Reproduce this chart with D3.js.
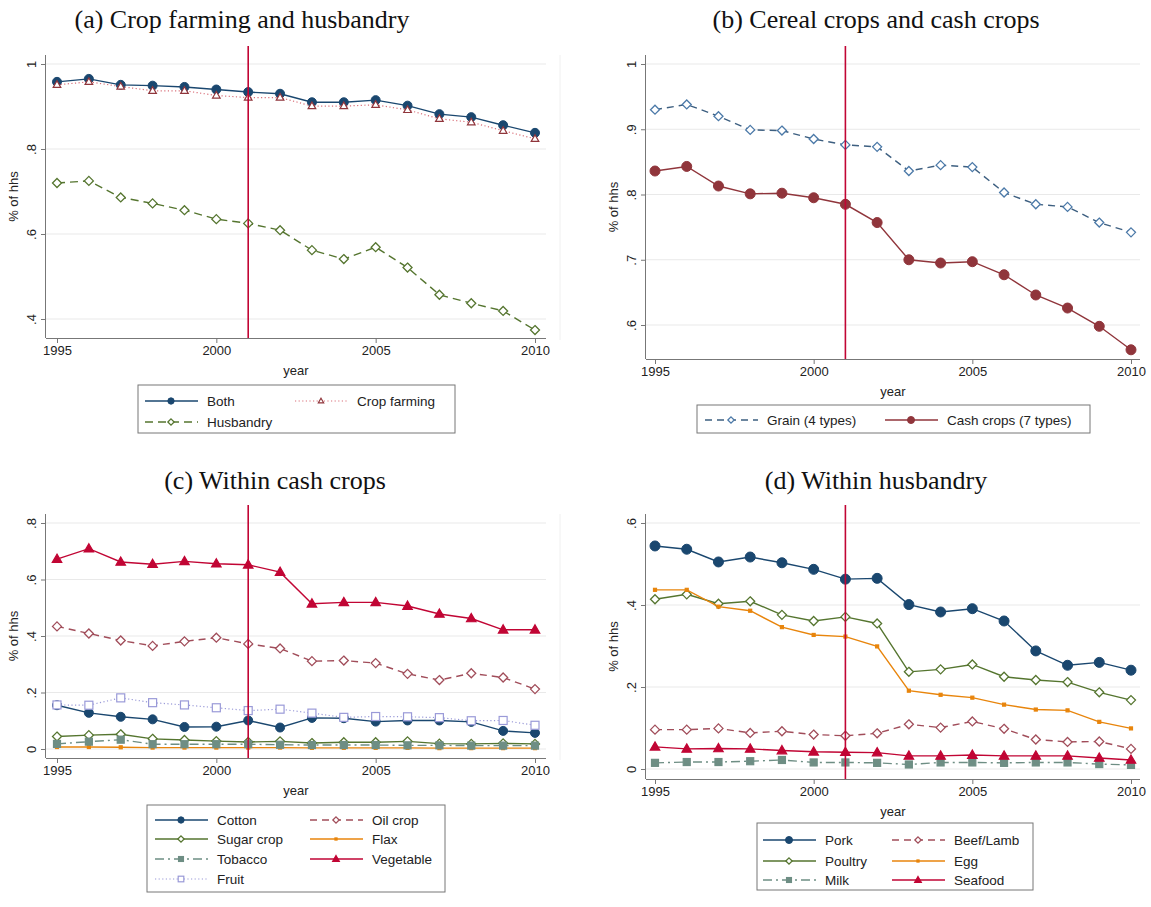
<!DOCTYPE html>
<html><head><meta charset="utf-8">
<script src="https://cdn.jsdelivr.net/npm/d3@7"></script>
<style>
body{margin:0;background:#fff;}
svg{display:block;}
</style></head>
<body>
<svg id="chart" width="1151" height="907"></svg>
<script>
// ---------- DATA ----------
const years = [1995,1996,1997,1998,1999,2000,2001,2002,2003,2004,2005,2006,2007,2008,2009,2010];
const xTicks = [1995,2000,2005,2010];
const policyYear = 2001;

// (a)
const both        = [0.958,0.965,0.951,0.949,0.946,0.940,0.934,0.930,0.910,0.910,0.915,0.902,0.882,0.875,0.856,0.838];
const cropFarming = [0.951,0.958,0.947,0.937,0.937,0.926,0.921,0.921,0.901,0.901,0.904,0.892,0.871,0.863,0.843,0.824];
const husbandry   = [0.720,0.725,0.686,0.672,0.656,0.635,0.625,0.609,0.562,0.541,0.569,0.521,0.457,0.437,0.419,0.374];
const ticksA = [0.4,0.6,0.8,1];

// (b)
const grain     = [0.930,0.938,0.920,0.899,0.898,0.885,0.876,0.873,0.836,0.845,0.842,0.803,0.785,0.781,0.757,0.742];
const cashCrops = [0.836,0.843,0.813,0.801,0.802,0.795,0.785,0.757,0.700,0.695,0.697,0.677,0.646,0.626,0.598,0.562];
const ticksB = [0.6,0.7,0.8,0.9,1];

// (c)
const cotton    = [0.155,0.128,0.114,0.105,0.078,0.079,0.101,0.076,0.110,0.109,0.097,0.101,0.101,0.096,0.064,0.057];
const oilCrop   = [0.434,0.409,0.384,0.365,0.381,0.394,0.372,0.356,0.311,0.313,0.304,0.266,0.244,0.268,0.253,0.212];
const sugarCrop = [0.044,0.049,0.052,0.036,0.032,0.028,0.025,0.027,0.021,0.024,0.024,0.027,0.019,0.018,0.020,0.018];
const flax      = [0.007,0.007,0.006,0.005,0.005,0.005,0.005,0.005,0.004,0.004,0.004,0.004,0.003,0.003,0.003,0.003];
const tobacco   = [0.018,0.026,0.033,0.017,0.017,0.017,0.017,0.015,0.014,0.014,0.014,0.013,0.013,0.012,0.012,0.012];
const vegetable = [0.672,0.709,0.662,0.654,0.664,0.656,0.652,0.626,0.514,0.519,0.519,0.506,0.478,0.462,0.422,0.422];
const fruit     = [0.156,0.155,0.181,0.164,0.156,0.146,0.136,0.141,0.127,0.112,0.115,0.114,0.111,0.100,0.101,0.084];
const ticksC = [0,0.2,0.4,0.6,0.8];

// (d)
const pork      = [0.544,0.536,0.505,0.517,0.503,0.487,0.463,0.465,0.401,0.383,0.391,0.361,0.288,0.253,0.260,0.241];
const beefLamb  = [0.096,0.096,0.099,0.088,0.092,0.084,0.081,0.087,0.109,0.101,0.116,0.098,0.072,0.066,0.067,0.049];
const poultry   = [0.414,0.426,0.403,0.409,0.376,0.361,0.371,0.355,0.237,0.243,0.255,0.225,0.217,0.212,0.187,0.168];
const egg       = [0.437,0.437,0.396,0.386,0.346,0.327,0.323,0.299,0.191,0.181,0.174,0.157,0.145,0.143,0.115,0.099];
const milk      = [0.015,0.017,0.017,0.019,0.022,0.016,0.016,0.015,0.011,0.016,0.016,0.015,0.016,0.016,0.012,0.010];
const seafood   = [0.054,0.049,0.050,0.049,0.045,0.042,0.041,0.040,0.032,0.032,0.034,0.032,0.032,0.032,0.027,0.022];
const ticksD = [0,0.2,0.4,0.6];

const titles = ["(a) Crop farming and husbandry","(b) Cereal crops and cash crops","(c) Within cash crops","(d) Within husbandry"];

// ---------- STYLE ----------
const C = {navy:"#1a476f", maroon:"#90353b", green:"#55752f", orange:"#e8850c", cran:"#c10534",
           teal:"#6e8e84", lav:"#9a9ad8", blue:"#4b79a8", grainLine:"#3d5f80", oil:"#a14d5a"};
const sans = "'Liberation Sans', Arial, sans-serif";
const serif = "'Liberation Serif', 'Times New Roman', serif";

const svg = d3.select("#chart");

function fmtTick(v){
  let s = d3.format(".1f")(v);
  if (s === "0.0") return "0";
  if (s === "1.0") return "1";
  return s.replace(/^0/,"");
}

function drawMarker(g, type, x, y, size, color, fill){
  const s = size;
  if (type === "circle"){
    g.append("circle").attr("cx",x).attr("cy",y).attr("r",s).attr("fill",fill||color).attr("stroke",color).attr("stroke-width",1);
  } else if (type === "diamond"){
    g.append("path").attr("d",`M${x},${y-s}L${x+s},${y}L${x},${y+s}L${x-s},${y}Z`)
      .attr("fill",fill||color).attr("stroke",color).attr("stroke-width",1.3);
  } else if (type === "triangle"){
    g.append("path").attr("d",`M${x},${y-s}L${x+s*0.95},${y+s*0.65}L${x-s*0.95},${y+s*0.65}Z`)
      .attr("fill",fill||color).attr("stroke",color).attr("stroke-width",1.2);
  } else if (type === "square"){
    g.append("rect").attr("x",x-s).attr("y",y-s).attr("width",2*s).attr("height",2*s)
      .attr("fill",fill||color).attr("stroke",color).attr("stroke-width",1.2);
  }
}

function panel(cfg){
  const g = svg.append("g");
  const x = d3.scaleLinear().domain([1995,2010]).range(cfg.xr);
  const y = d3.scaleLinear().domain(cfg.yd).range(cfg.yr);
  const left = cfg.axisX, right = cfg.rightX, bottom = cfg.axisY;

  // title
  g.append("text").attr("x",cfg.titleX).attr("y",cfg.titleY).attr("text-anchor","middle")
    .attr("font-family",serif).attr("font-size",26).attr("fill","#111").text(cfg.title);

  // faint frame right edge
  g.append("line").attr("x1",right+14).attr("x2",right+14).attr("y1",cfg.topY).attr("y2",bottom+2)
    .attr("stroke","#f0f0f0");

  // gridlines
  g.selectAll(".grid").data(cfg.ticks).enter().append("line")
    .attr("x1",left).attr("x2",right).attr("y1",d=>y(d)).attr("y2",d=>y(d))
    .attr("stroke","#e9e9e9").attr("stroke-width",1);

  // y axis
  const yAxis = d3.axisLeft(y).tickValues(cfg.ticks).tickFormat(fmtTick).tickSize(5).tickPadding(4);
  const ya = g.append("g").attr("transform",`translate(${left},0)`).call(yAxis);
  ya.select(".domain").attr("d",`M-0.5,${cfg.topY}V${bottom}`).attr("stroke","#777");
  ya.selectAll(".tick line").attr("stroke","#777");
  ya.selectAll(".tick text").attr("font-family",sans).attr("font-size",13).attr("fill","#222")
    .attr("transform","rotate(-90)").attr("x",0).attr("y",-10).attr("dy","0").attr("text-anchor","middle");

  // x axis
  const xAxis = d3.axisBottom(x).tickValues(xTicks).tickFormat(d3.format("d")).tickSize(5).tickPadding(3);
  const xa = g.append("g").attr("transform",`translate(0,${bottom})`).call(xAxis);
  xa.select(".domain").attr("d",`M${left},0.5H${right}`).attr("stroke","#777");
  xa.selectAll(".tick line").attr("stroke","#777");
  xa.selectAll(".tick text").attr("font-family",sans).attr("font-size",13).attr("fill","#222");

  // axis titles
  g.append("text").attr("transform",`translate(${left-28},${(cfg.topY+bottom)/2}) rotate(-90)`)
    .attr("text-anchor","middle").attr("font-family",sans).attr("font-size",13).attr("fill","#222").text("% of hhs");
  g.append("text").attr("x",(left+right)/2).attr("y",bottom+37).attr("text-anchor","middle")
    .attr("font-family",sans).attr("font-size",13).attr("fill","#222").text("year");

  // series
  cfg.series.forEach(s=>{
    const line = d3.line().x((d,i)=>x(years[i])).y(d=>y(d));
    g.append("path").datum(s.values).attr("d",line).attr("fill","none")
      .attr("stroke",s.lineColor||s.color).attr("stroke-width",s.width||1.4).attr("stroke-dasharray",s.dash||null);
    const mg = g.append("g");
    s.values.forEach((v,i)=>drawMarker(mg,s.marker,x(years[i]),y(v),s.size,s.color,s.fill));
  });

  // policy line
  g.append("line").attr("x1",x(policyYear)).attr("x2",x(policyYear)).attr("y1",cfg.topY-9).attr("y2",bottom)
    .attr("stroke",C.cran).attr("stroke-width",1.6);

  // legend
  const L = cfg.legend;
  g.append("rect").attr("x",L.x).attr("y",L.y).attr("width",L.w).attr("height",L.h)
    .attr("fill","#fff").attr("stroke","#777").attr("stroke-width",1);
  cfg.series.forEach((s,i)=>{
    const col = L.order[i][0], row = L.order[i][1];
    const lx = L.cols[col], ly = L.rows[row];
    g.append("line").attr("x1",lx).attr("x2",lx+53).attr("y1",ly).attr("y2",ly)
      .attr("stroke",s.lineColor||s.color).attr("stroke-width",s.width||1.4).attr("stroke-dasharray",s.dash||null);
    drawMarker(g,s.marker,lx+26,ly,s.size*0.7,s.color,s.fill);
    g.append("text").attr("x",lx+62).attr("y",ly+5).attr("font-family",sans).attr("font-size",13.5)
      .attr("fill","#222").text(s.name);
  });
}

// ---------- PANELS ----------
panel({
  title:titles[0], titleX:242, titleY:28,
  xr:[57,535], yd:[0.4,1], yr:[319,64], ticks:ticksA,
  axisX:46, rightX:546, axisY:338, topY:55,
  series:[
    {name:"Both", values:both, color:C.navy, marker:"circle", size:4.5},
    {name:"Crop farming", values:cropFarming, color:C.maroon, lineColor:"#d9707a", dash:"1.2,2.4", width:1.2, marker:"triangle", size:4, fill:"#fff"},
    {name:"Husbandry", values:husbandry, color:C.green, dash:"8,5", marker:"diamond", size:4.5, fill:"#fff"}
  ],
  legend:{x:138,y:385,w:317,h:48, cols:[145,295], rows:[401,422], order:[[0,0],[1,0],[0,1]]}
});

panel({
  title:titles[1], titleX:876, titleY:28,
  xr:[655,1131], yd:[0.6,1], yr:[325,64], ticks:ticksB,
  axisX:646, rightX:1140, axisY:359, topY:55,
  series:[
    {name:"Grain (4 types)", values:grain, color:C.blue, lineColor:C.grainLine, dash:"7,5", marker:"diamond", size:4.5, fill:"#fff"},
    {name:"Cash crops (7 types)", values:cashCrops, color:C.maroon, marker:"circle", size:5}
  ],
  legend:{x:697,y:405,w:393,h:28, cols:[705,885], rows:[420], order:[[0,0],[1,0]]}
});

panel({
  title:titles[2], titleX:275, titleY:489,
  xr:[57,535], yd:[0,0.8], yr:[749,523], ticks:ticksC,
  axisX:46, rightX:546, axisY:758, topY:514,
  series:[
    {name:"Cotton", values:cotton, color:C.navy, marker:"circle", size:4.5},
    {name:"Oil crop", values:oilCrop, color:C.oil, dash:"7,5", marker:"diamond", size:4.5, fill:"#fff"},
    {name:"Sugar crop", values:sugarCrop, color:C.green, marker:"diamond", size:4.5, fill:"#fff"},
    {name:"Flax", values:flax, color:C.orange, marker:"square", size:1.5},
    {name:"Tobacco", values:tobacco, color:C.teal, dash:"9,4,2,4", marker:"square", size:3.5},
    {name:"Vegetable", values:vegetable, color:C.cran, marker:"triangle", size:5},
    {name:"Fruit", values:fruit, color:C.lav, dash:"1.2,2.4", width:1.2, marker:"square", size:4, fill:"#fff"}
  ],
  legend:{x:147,y:805,w:298,h:87, cols:[155,310], rows:[820,839,859,879],
          order:[[0,0],[1,0],[0,1],[1,1],[0,2],[1,2],[0,3]]}
});

panel({
  title:titles[3], titleX:876, titleY:489,
  xr:[655,1131], yd:[0,0.6], yr:[769,523], ticks:ticksD,
  axisX:646, rightX:1140, axisY:779, topY:514,
  series:[
    {name:"Pork", values:pork, color:C.navy, marker:"circle", size:5},
    {name:"Beef/Lamb", values:beefLamb, color:C.oil, dash:"7,5", marker:"diamond", size:4.5, fill:"#fff"},
    {name:"Poultry", values:poultry, color:C.green, marker:"diamond", size:4.5, fill:"#fff"},
    {name:"Egg", values:egg, color:C.orange, marker:"square", size:1.5},
    {name:"Milk", values:milk, color:C.teal, dash:"9,4,2,4", marker:"square", size:3.5},
    {name:"Seafood", values:seafood, color:C.cran, marker:"triangle", size:5}
  ],
  legend:{x:757,y:823,w:276,h:67, cols:[763,892], rows:[840,861,880],
          order:[[0,0],[1,0],[0,1],[1,1],[0,2],[1,2]]}
});
</script>
</body></html>
